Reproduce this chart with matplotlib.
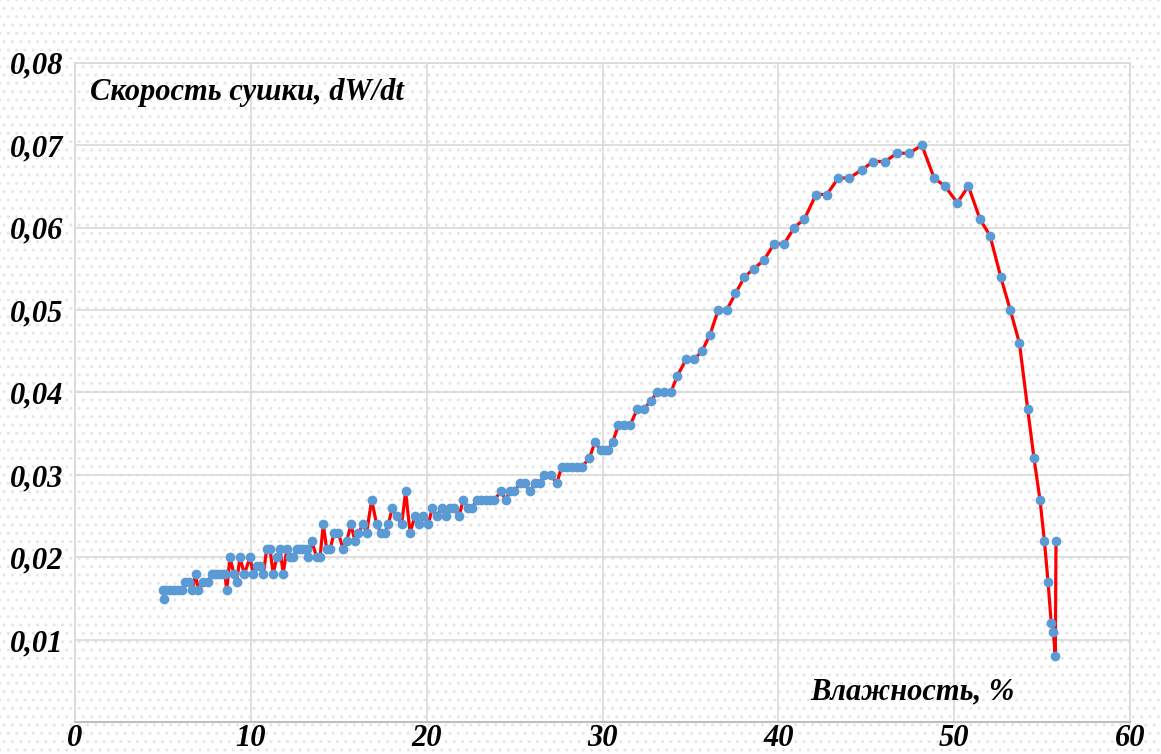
import matplotlib
matplotlib.use('Agg')
import matplotlib.pyplot as plt
from matplotlib.patches import Rectangle
from matplotlib.ticker import FuncFormatter

# Влажность, % (x) and drying rate dW/dt (y)
moisture = [
    5.01, 5.07, 5.18, 5.41, 5.64, 5.87, 6.09, 6.26, 6.49, 6.66, 6.87, 7.02,
    7.31, 7.59, 7.78, 7.97, 8.16, 8.35, 8.54, 8.64, 8.82, 9.05, 9.20, 9.39,
    9.64, 9.96, 10.15, 10.34, 10.53, 10.72, 10.91, 11.10, 11.28, 11.48, 11.67,
    11.85, 12.05, 12.23, 12.42, 12.62, 12.80, 12.97, 13.18, 13.27, 13.47,
    13.75, 13.94, 14.13, 14.32, 14.51, 14.75, 14.98, 15.26, 15.46, 15.70,
    15.93, 16.12, 16.40, 16.59, 16.88, 17.16, 17.41, 17.64, 17.82, 18.05,
    18.30, 18.58, 18.81, 19.06, 19.34, 19.57, 19.81, 20.10, 20.32, 20.57,
    20.86, 21.09, 21.33, 21.57, 21.84, 22.09, 22.34, 22.60, 22.85, 23.09,
    23.36, 23.60, 23.85, 24.23, 24.50, 24.74, 24.99, 25.31, 25.59, 25.88,
    26.16, 26.45, 26.69, 27.06, 27.40, 27.68, 27.97, 28.25, 28.53, 28.82,
    29.25, 29.57, 29.90, 30.14, 30.33, 30.58, 30.90, 31.22, 31.56, 31.98,
    32.36, 32.74, 33.12, 33.50, 33.88, 34.25, 34.75, 35.20, 35.65, 36.11,
    36.58, 37.06, 37.56, 38.07, 38.60, 39.16, 39.75, 40.32, 40.90, 41.47,
    42.14, 42.75, 43.41, 44.04, 44.74, 45.40, 46.07, 46.73, 47.45, 48.15,
    48.85, 49.47, 50.17, 50.80, 51.46, 52.03, 52.64, 53.18, 53.70, 54.17,
    54.53, 54.87, 55.12, 55.33, 55.51, 55.63, 55.74, 55.78,
]
rate = [
    0.016, 0.015, 0.016, 0.016, 0.016, 0.016, 0.016, 0.017, 0.017, 0.016, 0.018, 0.016,
    0.017, 0.017, 0.018, 0.018, 0.018, 0.018, 0.018, 0.016, 0.020, 0.018, 0.017, 0.020,
    0.018, 0.020, 0.018, 0.019, 0.019, 0.018, 0.021, 0.021, 0.018, 0.020, 0.021,
    0.018, 0.021, 0.020, 0.020, 0.021, 0.021, 0.021, 0.021, 0.020, 0.022,
    0.020, 0.020, 0.024, 0.021, 0.021, 0.023, 0.023, 0.021, 0.022, 0.024,
    0.022, 0.023, 0.024, 0.023, 0.027, 0.024, 0.023, 0.023, 0.024, 0.026,
    0.025, 0.024, 0.028, 0.023, 0.025, 0.024, 0.025, 0.024, 0.026, 0.025,
    0.026, 0.025, 0.026, 0.026, 0.025, 0.027, 0.026, 0.026, 0.027, 0.027,
    0.027, 0.027, 0.027, 0.028, 0.027, 0.028, 0.028, 0.029, 0.029, 0.028,
    0.029, 0.029, 0.030, 0.030, 0.029, 0.031, 0.031, 0.031, 0.031, 0.031,
    0.032, 0.034, 0.033, 0.033, 0.033, 0.034, 0.036, 0.036, 0.036, 0.038,
    0.038, 0.039, 0.040, 0.040, 0.040, 0.042, 0.044, 0.044, 0.045, 0.047,
    0.050, 0.050, 0.052, 0.054, 0.055, 0.056, 0.058, 0.058, 0.060, 0.061,
    0.064, 0.064, 0.066, 0.066, 0.067, 0.068, 0.068, 0.069, 0.069, 0.070,
    0.066, 0.065, 0.063, 0.065, 0.061, 0.059, 0.054, 0.050, 0.046, 0.038,
    0.032, 0.027, 0.022, 0.017, 0.012, 0.011, 0.008, 0.022,
]

x_ticks = [0, 10, 20, 30, 40, 50, 60]
y_ticks = [0.01, 0.02, 0.03, 0.04, 0.05, 0.06, 0.07, 0.08]
y_label = 'Скорость сушки, dW/dt'
x_label = 'Влажность, %'

label_font = dict(family='Liberation Serif', weight='bold', style='italic')

fig = plt.figure(figsize=(11.61, 7.54), dpi=100)

# dotted background like the Excel pattern fill
fig.patches.append(Rectangle((0, 0), 1, 1, transform=fig.transFigure, facecolor='white',
                             edgecolor='#e6e6e6', hatch='..', linewidth=0, zorder=-10))

ax = fig.add_axes([0.0644, 0.0418, 0.9091, 0.8753])
ax.patch.set_alpha(0)

ax.plot(moisture, rate, color='#ff0000', linewidth=2.3, zorder=3)
ax.plot(moisture, rate, linestyle='none', marker='o', markersize=6,
        color='#5b9bd5', zorder=4)

ax.set_xlim(0, 60)
ax.set_ylim(0, 0.08)
ax.set_xticks(x_ticks)
ax.set_yticks(y_ticks)
ax.yaxis.set_major_formatter(FuncFormatter(lambda v, p: f'{v:.2f}'.replace('.', ',')))
ax.tick_params(length=0, labelsize=22)
ax.tick_params(axis='y', pad=8)
ax.tick_params(axis='x', pad=1)
for t in ax.get_xticklabels() + ax.get_yticklabels():
    t.set_fontfamily('Liberation Serif')
    t.set_fontweight('bold')
    t.set_fontstyle('italic')

ax.grid(True, color='#d9d9d9', linewidth=1.2)
ax.set_axisbelow(True)
for side in ['top', 'right', 'left']:
    ax.spines[side].set_color('#d9d9d9')
    ax.spines[side].set_linewidth(1.2)
ax.spines['bottom'].set_color('#bfbfbf')
ax.spines['bottom'].set_linewidth(1.5)

ax.text(0.86, 0.0755, y_label, fontsize=22, va='baseline', **label_font)
ax.text(41.8, 0.0028, x_label, fontsize=22, va='baseline', **label_font)

fig.savefig('out.png', dpi=100)
